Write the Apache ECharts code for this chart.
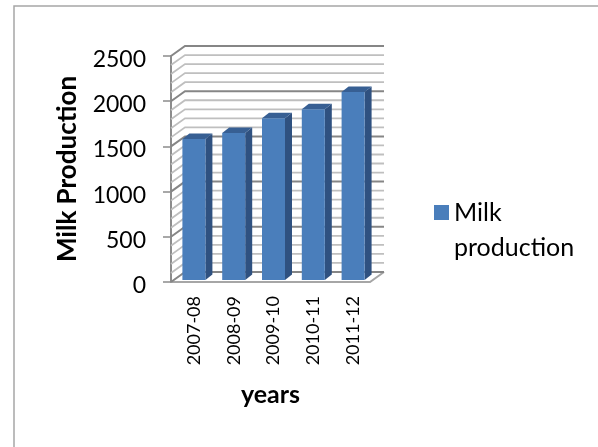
<!DOCTYPE html>
<html><head><meta charset="utf-8">
<style>html,body{margin:0;padding:0;background:#fff}#c{width:598px;height:447px}</style>
<script src="https://cdn.jsdelivr.net/npm/echarts@6/dist/echarts.min.js"></script>
</head><body><div id="c"></div>
<script>
const categories = ['2007-08','2008-09','2009-10','2010-11','2011-12'];
const milkProduction = [1560,1625,1790,1890,2080];
const gridValues = [0,100,200,300,400,500,600,700,800,900,1000,1100,1200,1300,1400,1500,1600,1700,1800,1900,2000,2100,2200,2300,2400,2500];
const yTicks = ['0','500','1000','1500','2000','2500'];
const seriesName = 'Milk production';
const FONT = 'Lato, "Open Sans", sans-serif';
const WALL_DX = 14, WALL_DY = -10, BAR_DX = 7, BAR_DY = -5.5, BAR_W = 23, BASE_LIFT = 2;
const FRONT_LEFT = 171, FRONT_RIGHT = 370;
const chart = echarts.init(document.getElementById('c'), null, {renderer:'canvas'});
const GRID = {left:174, right:225, top:56, bottom:165};

function wallItem(params, api){
  const v = api.value(0);
  const p = api.coord([0, v]);
  const x = FRONT_LEFT, xr = FRONT_RIGHT, y = p[1];
  const major = v % 500 === 0;
  const stroke = major ? '#868686' : '#bfbfbf';
  const w = major ? 2 : 1.8;
  const children = [{
    type:'polyline',
    shape:{points:[[x,y],[x+WALL_DX,y+WALL_DY],[xr+WALL_DX,y+WALL_DY]]},
    style:{stroke,lineWidth:w,fill:null}
  }];
  if (v === 0) {
    children.unshift({type:'polyline',
      shape:{points:[[x,y],[xr,y],[xr+WALL_DX,y+WALL_DY]]},
      style:{stroke:'#a6a6a6',lineWidth:2,fill:null}});
  }
  return {type:'group',children};
}
function barItem(params, api){
  const p = api.coord([api.value(0), api.value(1)]);
  const base = api.coord([api.value(0), 0]);
  const x0 = p[0] - BAR_W/2, x1 = x0 + BAR_W;
  const yt = p[1] - BASE_LIFT, yb = base[1] - BASE_LIFT;
  return {type:'group',children:[
    {type:'polygon',shape:{points:[[x1,yt],[x1+BAR_DX,yt+BAR_DY],[x1+BAR_DX,yb+BAR_DY],[x1,yb]]},style:{fill:'#2f5180'}},
    {type:'polygon',shape:{points:[[x0,yt],[x0+BAR_DX,yt+BAR_DY],[x1+BAR_DX,yt+BAR_DY],[x1,yt]]},style:{fill:'#375f93'}},
    {type:'rect',shape:{x:x0,y:yt,width:BAR_W,height:yb-yt},style:{fill:'#4a7ebb'}}
  ]};
}
chart.setOption({
  animation:false,
  backgroundColor:'#fff',
  graphic:[{type:'rect',silent:true,shape:{x:14,y:6,width:600,height:460},style:{fill:'none',stroke:'#a6a6a6',lineWidth:1.5},z:-1}],
  grid:GRID,
  legend:{
    left:434, top:160, orient:'vertical', padding:0,
    data:[{name:seriesName,icon:'rect'}],
    itemWidth:15,itemHeight:15,itemGap:4,
    formatter:()=> '\nMilk\nproduction',
    textStyle:{fontFamily:FONT,fontSize:25,color:'#000',lineHeight:35}
  },
  xAxis:{
    type:'category',data:categories,
    name:'years',nameLocation:'middle',nameGap:100,
    nameTextStyle:{fontFamily:FONT,fontWeight:'bold',fontSize:25,color:'#000',padding:[0,6,0,0]},
    axisLine:{show:false},axisTick:{show:false},
    axisLabel:{rotate:90,fontFamily:FONT,fontSize:18,color:'#000',margin:14,interval:0}
  },
  yAxis:{
    type:'value',min:0,max:2500,interval:500,offset:3,
    name:'Milk Production',nameLocation:'middle',nameGap:90,nameRotate:90,
    nameTextStyle:{fontFamily:FONT,fontWeight:'bold',fontSize:26,color:'#000'},
    axisLine:{show:true,lineStyle:{color:'#8c8c8c',width:2}},
    axisTick:{show:true,length:8,lineStyle:{color:'#8c8c8c',width:1.5}},
    axisLabel:{fontFamily:FONT,fontSize:23,color:'#000',margin:25,
      formatter:(v)=>'{a|'+yTicks[v/500]+'}',
      rich:{a:{fontFamily:FONT,fontSize:23,color:'#000',padding:[7,0,0,0]}}},
    splitLine:{show:false}
  },
  series:[
    {type:'custom',name:'walls',silent:true,renderItem:wallItem,coordinateSystem:'cartesian2d',
     encode:{y:0},data:gridValues.map(v=>[v]),z:1,legendHoverLink:false},
    {type:'custom',name:seriesName,renderItem:barItem,coordinateSystem:'cartesian2d',
     encode:{x:0,y:1},data:milkProduction.map((v,i)=>[i,v]),itemStyle:{color:'#4a7ebb'},z:2}
  ]
});
</script></body></html>
